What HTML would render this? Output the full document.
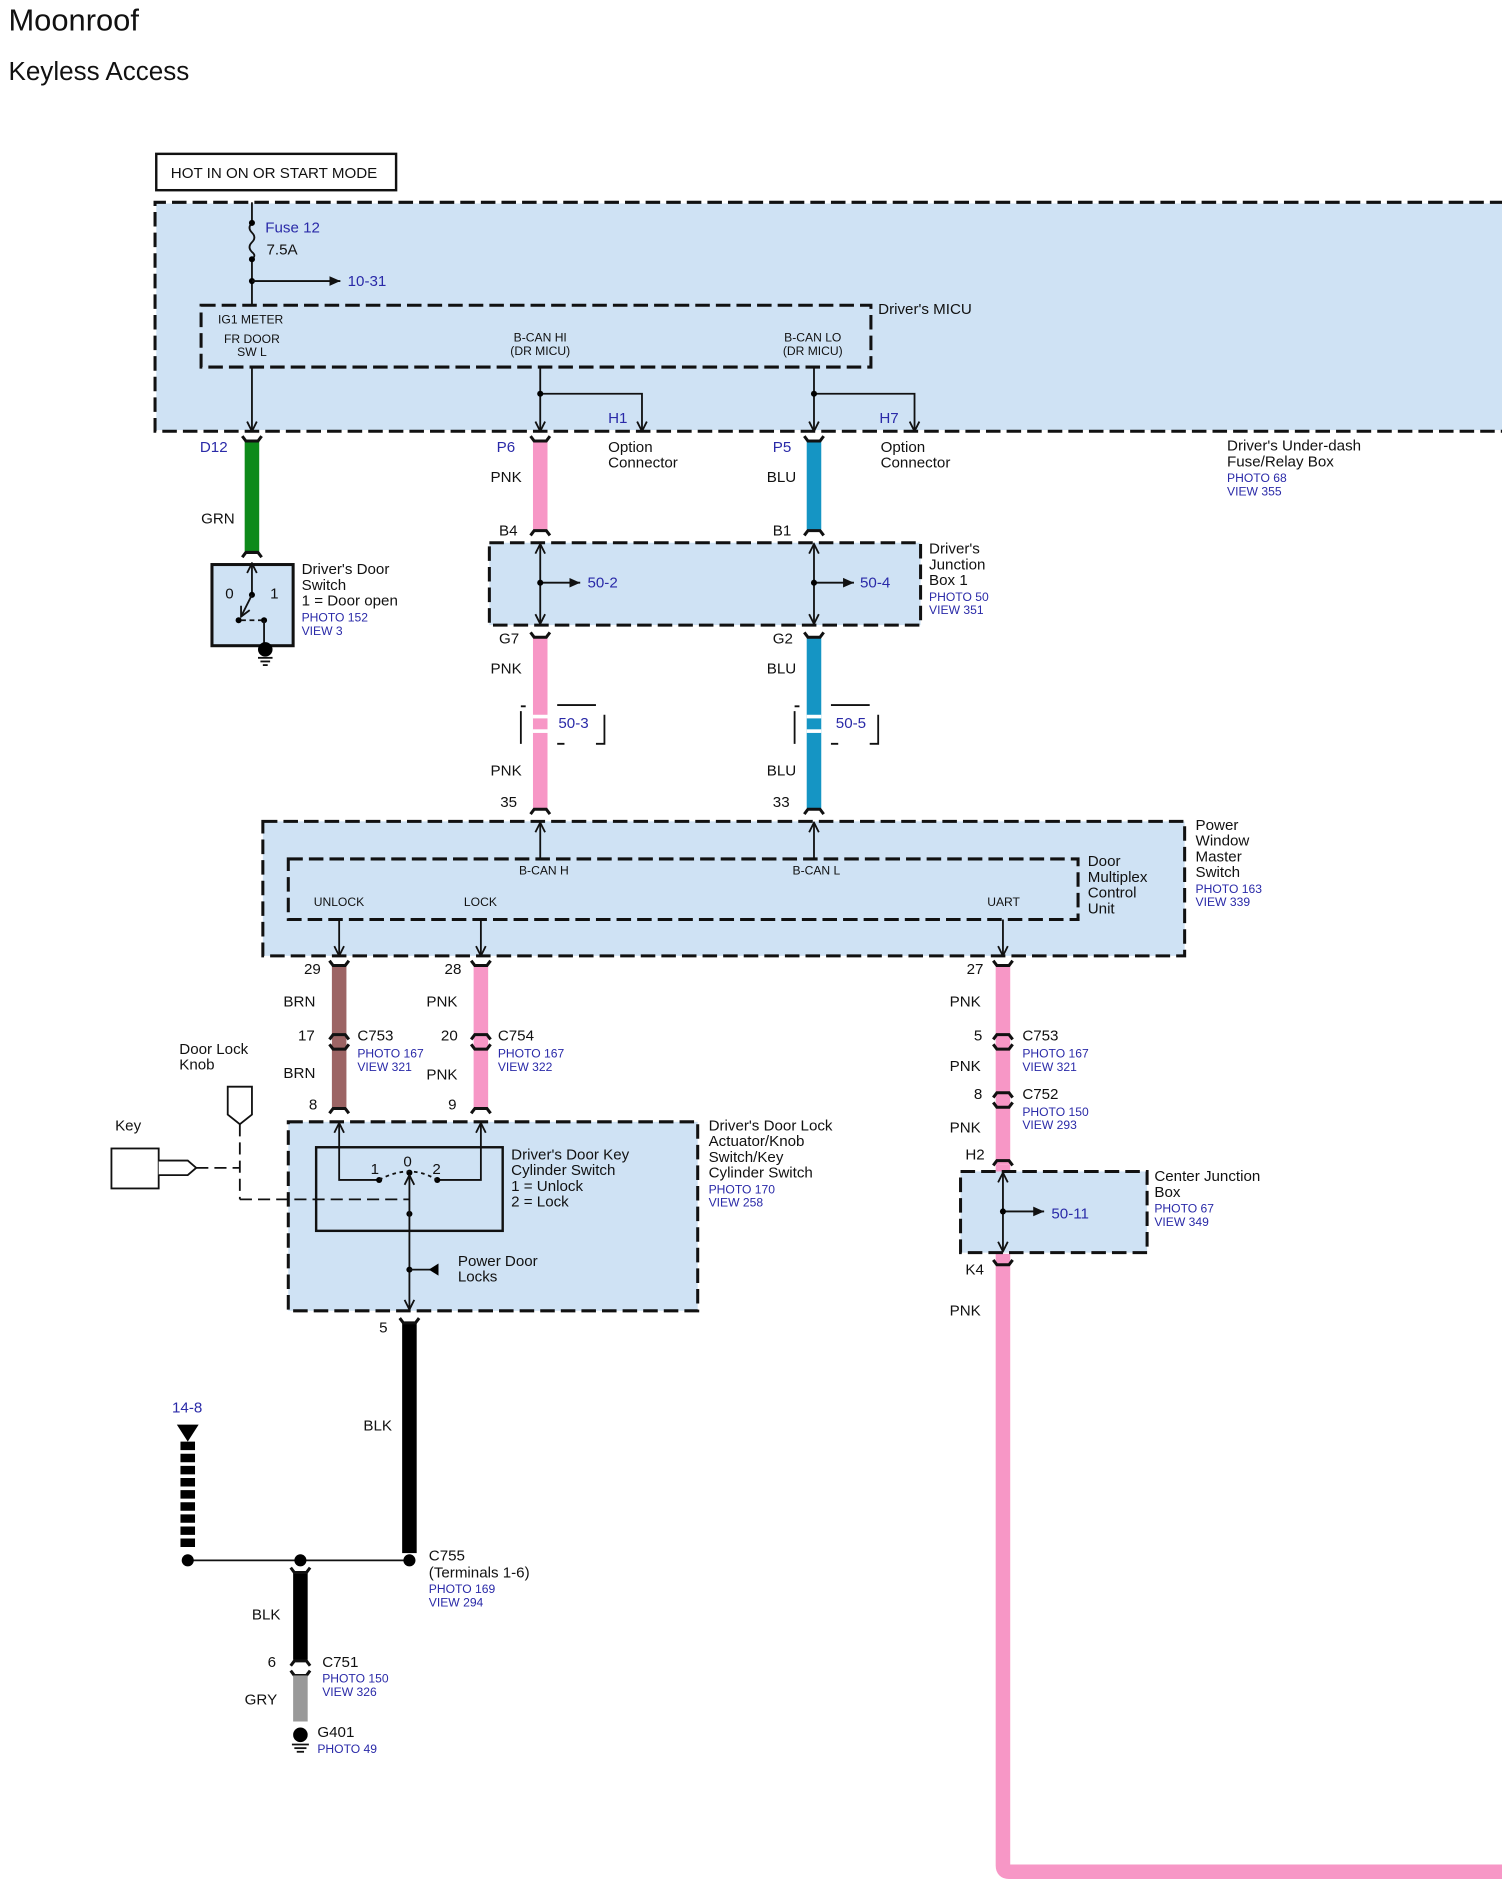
<!DOCTYPE html>
<html><head><meta charset="utf-8"><style>
html,body{margin:0;padding:0;background:#fff;}
svg{display:block;}
text{font-family:"Liberation Sans",Arial,sans-serif;fill:#111;}
.b{fill:#2a2aa8;}
.s10{font-size:10px;}
.s11{font-size:11px;}
.s12{font-size:12.5px;}
.box{fill:#cfe2f4;stroke:#111;stroke-width:2.5;stroke-dasharray:12 5;}
.ibox{fill:none;stroke:#111;stroke-width:2.5;stroke-dasharray:12 5;}
.ln{stroke:#111;stroke-width:1.5;fill:none;}
.cap{stroke:#111;stroke-width:2.5;fill:none;}
</style></head><body>
<svg width="1502" height="1902" viewBox="0 0 1240 1570" preserveAspectRatio="none" xmlns="http://www.w3.org/2000/svg">
<defs>
<marker id="ar" markerWidth="10" markerHeight="10" refX="9" refY="5" orient="auto" markerUnits="userSpaceOnUse"><path d="M1,1 L9,5 L1,9" fill="none" stroke="#111" stroke-width="1.5"/></marker>
<marker id="af" markerWidth="10" markerHeight="10" refX="9" refY="5" orient="auto" markerUnits="userSpaceOnUse"><path d="M0,1 L9,5 L0,9 Z" fill="#111"/></marker>
</defs>
<rect width="1240" height="1570" fill="#fff"/>
<text x="7" y="25" font-size="25.5">Moonroof</text>
<text x="7" y="66" font-size="21.5">Keyless Access</text>

<rect x="129" y="127" width="198" height="30" fill="#fff" stroke="#111" stroke-width="2"/>
<text x="141" y="147" class="s12">HOT IN ON OR START MODE</text>

<!-- under-dash box -->
<rect x="129" y="168" width="1111" height="187" fill="#cfe2f4"/>
<path d="M1242,167 L128,167 L128,356 L1242,356" fill="none" stroke="#111" stroke-width="2.5" stroke-dasharray="12 5"/>
<line x1="208" y1="167" x2="208" y2="184" class="ln"/>
<path d="M208,184 q-4,4 0,8 q4,4 0,8 q-4,4 0,8 q4,3 0,6" class="ln"/>
<line x1="208" y1="214" x2="208" y2="252" class="ln"/>
<circle cx="208" cy="184" r="2.5"/><circle cx="208" cy="214" r="2.5"/><circle cx="208" cy="232" r="2.5"/>
<line x1="208" y1="232" x2="281" y2="232" class="ln" marker-end="url(#af)"/>
<text x="219" y="192" class="s12 b">Fuse 12</text>
<text x="220" y="210" class="s12">7.5A</text>
<text x="287" y="236" class="s12 b">10-31</text>

<rect x="166" y="252" width="553" height="51" class="ibox"/>
<text x="725" y="259" class="s12">Driver's MICU</text>
<text x="180" y="267" class="s10">IG1 METER</text>
<text x="208" y="283" class="s10" text-anchor="middle">FR DOOR</text>
<text x="208" y="294" class="s10" text-anchor="middle">SW L</text>
<text x="446" y="282" class="s10" text-anchor="middle">B-CAN HI</text>
<text x="446" y="293" class="s10" text-anchor="middle">(DR MICU)</text>
<text x="671" y="282" class="s10" text-anchor="middle">B-CAN LO</text>
<text x="671" y="293" class="s10" text-anchor="middle">(DR MICU)</text>
<line x1="208" y1="303" x2="208" y2="356" class="ln" marker-end="url(#ar)"/>
<line x1="446" y1="303" x2="446" y2="356" class="ln" marker-end="url(#ar)"/>
<path d="M446,325 H530 V356" class="ln" marker-end="url(#ar)"/><circle cx="446" cy="325" r="2.5"/>
<line x1="672" y1="303" x2="672" y2="356" class="ln" marker-end="url(#ar)"/>
<path d="M672,325 H755 V356" class="ln" marker-end="url(#ar)"/><circle cx="672" cy="325" r="2.5"/>
<text x="502" y="349" class="s12 b">H1</text>
<text x="726" y="349" class="s12 b">H7</text>

<text x="165" y="373" class="s12 b">D12</text>
<text x="410" y="373" class="s12 b">P6</text>
<text x="638" y="373" class="s12 b">P5</text>
<text x="502" y="373" class="s12">Option</text><text x="502" y="386" class="s12">Connector</text>
<text x="727" y="373" class="s12">Option</text><text x="727" y="386" class="s12">Connector</text>
<text x="1013" y="372" class="s12">Driver's Under-dash</text>
<text x="1013" y="385" class="s12">Fuse/Relay Box</text>
<text x="1013" y="398" class="s10 b">PHOTO 68</text>
<text x="1013" y="409" class="s10 b">VIEW 355</text>

<!-- wires top -->
<rect x="202" y="364" width="12" height="91" fill="#0d8a1a"/>
<path d="M200,360 l3,4 h10 l3,-4" class="cap"/>
<path d="M200,460 l3,-4 h10 l3,4" class="cap"/>
<text x="166" y="432" class="s12">GRN</text>

<rect x="440" y="364" width="12" height="73" fill="#f797c6"/>
<path d="M438,360 l3,4 h10 l3,-4" class="cap"/>
<path d="M438,442 l3,-4 h10 l3,4" class="cap"/>
<text x="405" y="398" class="s12">PNK</text><text x="412" y="442" class="s12">B4</text>
<rect x="666" y="364" width="12" height="73" fill="#1595c4"/>
<path d="M664,360 l3,4 h10 l3,-4" class="cap"/>
<path d="M664,442 l3,-4 h10 l3,4" class="cap"/>
<text x="633" y="398" class="s12">BLU</text><text x="638" y="442" class="s12">B1</text>

<!-- door switch -->
<rect x="175" y="466" width="67" height="67" fill="#cfe2f4" stroke="#111" stroke-width="2.5"/>
<line x1="208" y1="466" x2="208" y2="491" class="ln" marker-end="url(#ar)" transform="rotate(180 208 478)"/>
<circle cx="208" cy="491" r="2.5"/>
<line x1="208" y1="491" x2="199" y2="509" class="ln" marker-end="url(#ar)"/>
<circle cx="197" cy="512" r="2.5"/><circle cx="218" cy="512" r="2.5"/>
<line x1="199" y1="512" x2="216" y2="512" class="ln" stroke-dasharray="4 3"/>
<line x1="218" y1="512" x2="218" y2="533" class="ln"/>
<circle cx="219" cy="536" r="6"/>
<line x1="213" y1="543" x2="225" y2="543" class="ln"/><line x1="215" y1="546" x2="223" y2="546" class="ln"/><line x1="217" y1="549" x2="221" y2="549" class="ln"/>
<text x="186" y="494" class="s12">0</text><text x="223" y="494" class="s12">1</text>
<text x="249" y="474" class="s12">Driver's Door</text>
<text x="249" y="487" class="s12">Switch</text>
<text x="249" y="500" class="s12">1 = Door open</text>
<text x="249" y="513" class="s10 b">PHOTO 152</text>
<text x="249" y="524" class="s10 b">VIEW 3</text>

<!-- junction box 1 -->
<rect x="404" y="448" width="356" height="68" class="box"/>
<line x1="446" y1="482" x2="446" y2="449" class="ln" marker-end="url(#ar)"/>
<line x1="446" y1="482" x2="446" y2="515" class="ln" marker-end="url(#ar)"/>
<line x1="446" y1="481" x2="479" y2="481" class="ln" marker-end="url(#af)"/><circle cx="446" cy="481" r="2.5"/>
<text x="485" y="485" class="s12 b">50-2</text>
<line x1="672" y1="482" x2="672" y2="449" class="ln" marker-end="url(#ar)"/>
<line x1="672" y1="482" x2="672" y2="515" class="ln" marker-end="url(#ar)"/>
<line x1="672" y1="481" x2="705" y2="481" class="ln" marker-end="url(#af)"/><circle cx="672" cy="481" r="2.5"/>
<text x="710" y="485" class="s12 b">50-4</text>
<text x="767" y="457" class="s12">Driver's</text>
<text x="767" y="470" class="s12">Junction</text>
<text x="767" y="483" class="s12">Box 1</text>
<text x="767" y="496" class="s10 b">PHOTO 50</text>
<text x="767" y="507" class="s10 b">VIEW 351</text>

<!-- middle wires -->
<rect x="440" y="526" width="12" height="141" fill="#f797c6"/>
<rect x="440" y="590" width="12" height="3" fill="#fff"/><rect x="440" y="602" width="12" height="3" fill="#fff"/>
<path d="M438,522 l3,4 h10 l3,-4" class="cap"/>
<path d="M438,672 l3,-4 h10 l3,4" class="cap"/>
<text x="412" y="531" class="s12">G7</text><text x="405" y="556" class="s12">PNK</text><text x="405" y="640" class="s12">PNK</text><text x="413" y="666" class="s12">35</text>
<path d="M430,587 V614 M430,583 H434 M460,582 H492 M499,590 V614 H492 M460,614 H466" class="ln" stroke-width="1"/>
<text x="461" y="601" class="s12 b">50-3</text>
<rect x="666" y="526" width="12" height="141" fill="#1595c4"/>
<rect x="666" y="590" width="12" height="3" fill="#fff"/><rect x="666" y="602" width="12" height="3" fill="#fff"/>
<path d="M664,522 l3,4 h10 l3,-4" class="cap"/>
<path d="M664,672 l3,-4 h10 l3,4" class="cap"/>
<text x="638" y="531" class="s12">G2</text><text x="633" y="556" class="s12">BLU</text><text x="633" y="640" class="s12">BLU</text><text x="638" y="666" class="s12">33</text>
<path d="M656,587 V614 M656,583 H660 M686,582 H718 M725,590 V614 H718 M686,614 H692" class="ln" stroke-width="1"/>
<text x="690" y="601" class="s12 b">50-5</text>

<!-- power window master switch -->
<rect x="217" y="678" width="761" height="111" class="box"/>
<rect x="238" y="709" width="652" height="50" class="ibox"/>
<line x1="446" y1="709" x2="446" y2="679" class="ln" marker-end="url(#ar)"/>
<line x1="672" y1="709" x2="672" y2="679" class="ln" marker-end="url(#ar)"/>
<text x="449" y="722" class="s10" text-anchor="middle">B-CAN H</text>
<text x="674" y="722" class="s10" text-anchor="middle">B-CAN L</text>
<text x="259" y="748" class="s10">UNLOCK</text>
<text x="383" y="748" class="s10">LOCK</text>
<text x="815" y="748" class="s10">UART</text>
<line x1="280" y1="759" x2="280" y2="789" class="ln" marker-end="url(#ar)"/>
<line x1="397" y1="759" x2="397" y2="789" class="ln" marker-end="url(#ar)"/>
<line x1="828" y1="759" x2="828" y2="789" class="ln" marker-end="url(#ar)"/>
<text x="898" y="715" class="s12">Door</text><text x="898" y="728" class="s12">Multiplex</text><text x="898" y="741" class="s12">Control</text><text x="898" y="754" class="s12">Unit</text>
<text x="987" y="685" class="s12">Power</text><text x="987" y="698" class="s12">Window</text><text x="987" y="711" class="s12">Master</text><text x="987" y="724" class="s12">Switch</text>
<text x="987" y="737" class="s10 b">PHOTO 163</text><text x="987" y="748" class="s10 b">VIEW 339</text>

<!-- lower wires -->
<rect x="274" y="797" width="12" height="117" fill="#9c6464"/>
<path d="M272,793 l3,4 h10 l3,-4" class="cap"/>
<path d="M272,858 l3,-4 h10 l3,4" class="cap"/><path d="M272,866 l3,-4 h10 l3,4" transform="rotate(180 280 864)" class="cap"/>
<path d="M272,919 l3,-4 h10 l3,4" class="cap"/>
<text x="251" y="804" class="s12">29</text><text x="234" y="831" class="s12">BRN</text><text x="246" y="859" class="s12">17</text><text x="234" y="890" class="s12">BRN</text><text x="255" y="916" class="s12">8</text>
<text x="295" y="859" class="s12">C753</text><text x="295" y="873" class="s10 b">PHOTO 167</text><text x="295" y="884" class="s10 b">VIEW 321</text>

<rect x="391" y="797" width="12" height="117" fill="#f797c6"/>
<path d="M389,793 l3,4 h10 l3,-4" class="cap"/>
<path d="M389,858 l3,-4 h10 l3,4" class="cap"/><path d="M389,866 l3,-4 h10 l3,4" transform="rotate(180 397 864)" class="cap"/>
<path d="M389,919 l3,-4 h10 l3,4" class="cap"/>
<text x="367" y="804" class="s12">28</text><text x="352" y="831" class="s12">PNK</text><text x="364" y="859" class="s12">20</text><text x="352" y="891" class="s12">PNK</text><text x="370" y="916" class="s12">9</text>
<text x="411" y="859" class="s12">C754</text><text x="411" y="873" class="s10 b">PHOTO 167</text><text x="411" y="884" class="s10 b">VIEW 322</text>

<path d="M828,797 V1540 Q828,1545 833,1545 H1242" stroke="#f797c6" stroke-width="12" fill="none"/>
<rect x="800" y="961" width="60" height="80" fill="#fff"/>
<rect x="822" y="961" width="12" height="6" fill="#f797c6"/><rect x="822" y="1035" width="12" height="8" fill="#f797c6"/>
<path d="M820,793 l3,4 h10 l3,-4" class="cap"/>
<path d="M820,858 l3,-4 h10 l3,4" class="cap"/><path d="M820,866 l3,-4 h10 l3,4" transform="rotate(180 828 864)" class="cap"/>
<path d="M820,906 l3,-4 h10 l3,4" class="cap"/><path d="M820,914 l3,-4 h10 l3,4" transform="rotate(180 828 912)" class="cap"/>
<path d="M820,962 l3,-4 h10 l3,4" class="cap"/>
<path d="M820,1040 l3,4 h10 l3,-4" class="cap"/>
<text x="798" y="804" class="s12">27</text><text x="784" y="831" class="s12">PNK</text><text x="804" y="859" class="s12">5</text><text x="784" y="884" class="s12">PNK</text><text x="804" y="907" class="s12">8</text><text x="784" y="935" class="s12">PNK</text><text x="797" y="957" class="s12">H2</text><text x="797" y="1052" class="s12">K4</text><text x="784" y="1086" class="s12">PNK</text>
<text x="844" y="859" class="s12">C753</text><text x="844" y="873" class="s10 b">PHOTO 167</text><text x="844" y="884" class="s10 b">VIEW 321</text>
<text x="844" y="907" class="s12">C752</text><text x="844" y="921" class="s10 b">PHOTO 150</text><text x="844" y="932" class="s10 b">VIEW 293</text>

<!-- center junction box -->
<rect x="793" y="967" width="154" height="67" class="box"/>
<line x1="828" y1="1000" x2="828" y2="968" class="ln" marker-end="url(#ar)"/>
<line x1="828" y1="1000" x2="828" y2="1033" class="ln" marker-end="url(#ar)"/>
<line x1="828" y1="1000" x2="862" y2="1000" class="ln" marker-end="url(#af)"/><circle cx="828" cy="1000" r="2.5"/>
<text x="868" y="1006" class="s12 b">50-11</text>
<text x="953" y="975" class="s12">Center Junction</text><text x="953" y="988" class="s12">Box</text>
<text x="953" y="1001" class="s10 b">PHOTO 67</text><text x="953" y="1012" class="s10 b">VIEW 349</text>

<!-- door lock actuator -->
<text x="148" y="870" class="s12">Door Lock</text><text x="148" y="883" class="s12">Knob</text>
<text x="95" y="933" class="s12">Key</text>
<path d="M188,897 H208 V920 L198,928 L188,920 Z" fill="#fff" stroke="#111" stroke-width="1.5"/>
<line x1="198" y1="928" x2="198" y2="990" class="ln" stroke-dasharray="10 5"/>
<rect x="92" y="948" width="39" height="33" fill="#fff" stroke="#111" stroke-width="1.5"/>
<path d="M131,958 H155 L162,964 L155,970 H131" fill="#fff" stroke="#111" stroke-width="1.5"/>
<line x1="162" y1="964" x2="198" y2="964" class="ln" stroke-dasharray="10 5"/>
<rect x="238" y="926" width="338" height="156" class="box"/>
<path d="M198,990 H338" class="ln" stroke-dasharray="10 5"/>
<rect x="261" y="947" width="154" height="69" fill="none" stroke="#111" stroke-width="2"/>
<path d="M313,974 H280 V927" class="ln" marker-end="url(#ar)"/>
<path d="M361,974 H397 V927" class="ln" marker-end="url(#ar)"/>
<circle cx="313" cy="974" r="2.5"/><circle cx="361" cy="974" r="2.5"/><circle cx="338" cy="968" r="2.5"/><circle cx="338" cy="1002" r="2.5"/>
<path d="M313,974 Q338,960 361,974" class="ln" stroke-dasharray="3 3"/>
<line x1="338" y1="1048" x2="338" y2="1081" class="ln" marker-end="url(#ar)"/>
<line x1="338" y1="1048" x2="338" y2="970" class="ln" marker-end="url(#ar)"/>
<circle cx="338" cy="1048" r="2.5"/>
<line x1="338" y1="1048" x2="362" y2="1048" class="ln"/><path d="M362,1043 L354,1048 L362,1053 Z"/>
<text x="306" y="969" class="s12">1</text><text x="333" y="963" class="s12">0</text><text x="357" y="969" class="s12">2</text>
<text x="422" y="957" class="s12">Driver's Door Key</text><text x="422" y="970" class="s12">Cylinder Switch</text><text x="422" y="983" class="s12">1 = Unlock</text><text x="422" y="996" class="s12">2 = Lock</text>
<text x="378" y="1045" class="s12">Power Door</text><text x="378" y="1058" class="s12">Locks</text>
<text x="585" y="933" class="s12">Driver's Door Lock</text><text x="585" y="946" class="s12">Actuator/Knob</text><text x="585" y="959" class="s12">Switch/Key</text><text x="585" y="972" class="s12">Cylinder Switch</text>
<text x="585" y="985" class="s10 b">PHOTO 170</text><text x="585" y="996" class="s10 b">VIEW 258</text>

<!-- ground -->
<rect x="332" y="1092" width="12" height="190" fill="#000"/>
<path d="M330,1088 l3,4 h10 l3,-4" class="cap"/>
<text x="313" y="1100" class="s12">5</text><text x="300" y="1181" class="s12">BLK</text>
<text x="142" y="1166" class="s12 b">14-8</text>
<path d="M146,1176 H164 L155,1190 Z"/>
<line x1="155" y1="1190" x2="155" y2="1280" stroke="#000" stroke-width="12" stroke-dasharray="7 3"/>
<line x1="155" y1="1288" x2="338" y2="1288" class="ln"/>
<circle cx="155" cy="1288" r="5"/><circle cx="248" cy="1288" r="5"/><circle cx="338" cy="1288" r="5"/>
<rect x="242" y="1298" width="12" height="72" fill="#000"/>
<path d="M240,1294 l3,4 h10 l3,-4" class="cap"/>
<path d="M240,1375 l3,-4 h10 l3,4" class="cap"/><path d="M240,1383 l3,-4 h10 l3,4" transform="rotate(180 248 1381)" class="cap"/>
<rect x="242" y="1383" width="12" height="38" fill="#999"/>
<circle cx="248" cy="1432" r="6"/>
<line x1="241" y1="1440" x2="255" y2="1440" class="ln"/><line x1="243" y1="1443" x2="253" y2="1443" class="ln"/><line x1="245" y1="1446" x2="251" y2="1446" class="ln"/>
<text x="354" y="1288" class="s12">C755</text><text x="354" y="1302" class="s12">(Terminals 1-6)</text>
<text x="354" y="1315" class="s10 b">PHOTO 169</text><text x="354" y="1326" class="s10 b">VIEW 294</text>
<text x="208" y="1337" class="s12">BLK</text>
<text x="221" y="1376" class="s12">6</text><text x="266" y="1376" class="s12">C751</text>
<text x="266" y="1389" class="s10 b">PHOTO 150</text><text x="266" y="1400" class="s10 b">VIEW 326</text>
<text x="202" y="1407" class="s12">GRY</text>
<text x="262" y="1434" class="s12">G401</text><text x="262" y="1447" class="s10 b">PHOTO 49</text>
</svg>
</body></html>
